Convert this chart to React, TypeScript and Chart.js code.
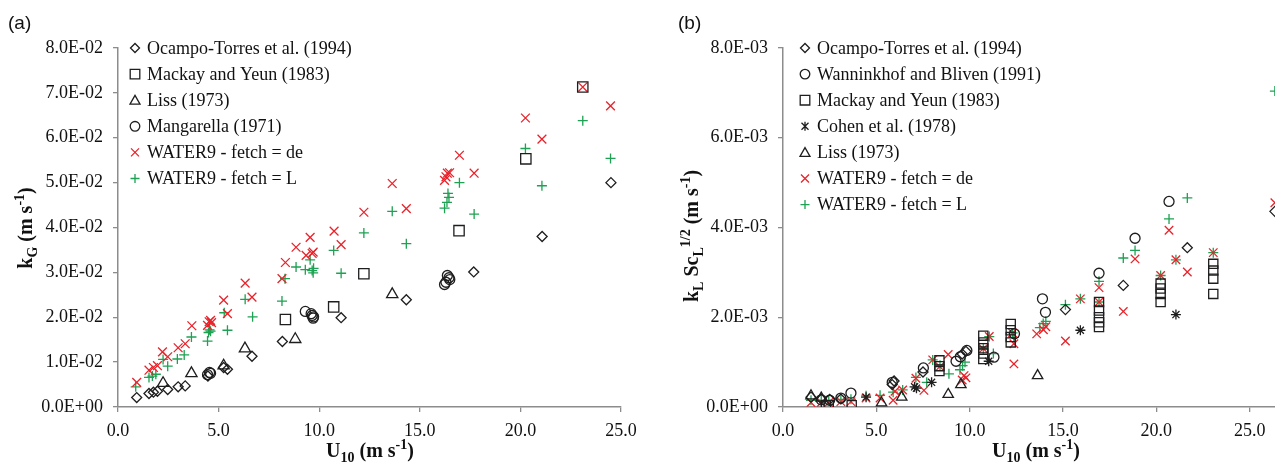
import React, { useEffect, useRef } from 'react';
import { Chart, registerables } from 'chart.js';
Chart.register(...registerables);

type P = [number, number];

// ---------------- Panel (a): k_G vs U10 ----------------
const ocampoA: P[] = [[0.93,0.0021],[1.54,0.0030],[1.76,0.0033],[1.96,0.0035],[2.47,0.0039],[2.99,0.0045],[3.34,0.0047],[4.47,0.0069],[5.25,0.0088],[5.44,0.0084],[6.66,0.0113],[8.17,0.0146],[11.09,0.0199],[14.33,0.0239],[17.68,0.0301],[21.08,0.0380],[24.5,0.0500]];
const mackayA: P[] = [[8.32,0.0195],[10.72,0.0223],[12.22,0.0297],[16.95,0.0393],[20.27,0.0553],[23.1,0.0713]];
const lissA: P[] = [[2.24,0.0053],[3.65,0.0075],[5.25,0.0092],[6.31,0.0130],[8.81,0.0151],[13.63,0.0251]];
const mangarellaA: P[] = [[4.45,0.0072],[4.55,0.0077],[4.6,0.0075],[9.31,0.0213],[9.6,0.0208],[9.65,0.0204],[9.7,0.0198],[9.72,0.0201],[16.23,0.0273],[16.3,0.0278],[16.37,0.0293],[16.45,0.0288],[16.49,0.0284]];
const water9DeA: P[] = [[0.93,0.0055],[1.54,0.0082],[1.76,0.0088],[1.96,0.0092],[2.21,0.0123],[2.47,0.0112],[2.99,0.0132],[3.34,0.0141],[3.67,0.0181],[4.45,0.0182],[4.53,0.0190],[4.6,0.0193],[4.65,0.0188],[5.25,0.0238],[5.44,0.0208],[6.32,0.0276],[6.66,0.0245],[8.15,0.0286],[8.32,0.0322],[8.85,0.0356],[9.35,0.0338],[9.55,0.0378],[9.65,0.0342],[9.7,0.0345],[10.74,0.0392],[11.09,0.0362],[12.22,0.0434],[13.63,0.0498],[14.33,0.0442],[16.23,0.0505],[16.3,0.0513],[16.37,0.0521],[16.48,0.0522],[16.97,0.0561],[17.7,0.0521],[20.25,0.0644],[21.07,0.0597],[23.1,0.0713],[24.48,0.0671]];
const water9LA: P[] = [[0.88,0.0045],[1.54,0.0066],[1.71,0.0069],[1.88,0.0073],[2.24,0.0106],[2.47,0.0091],[2.95,0.0107],[3.29,0.0116],[3.65,0.0156],[4.45,0.0147],[4.5,0.0166],[4.55,0.0172],[4.6,0.0169],[5.28,0.0210],[5.44,0.0171],[6.32,0.0240],[6.69,0.0201],[8.15,0.0236],[8.3,0.0286],[8.85,0.0312],[9.31,0.0306],[9.55,0.0328],[9.65,0.0304],[9.7,0.0299],[9.72,0.0309],[10.72,0.0349],[11.09,0.0298],[12.22,0.0388],[13.63,0.0436],[14.33,0.0364],[16.23,0.0443],[16.35,0.0456],[16.45,0.0467],[16.4,0.0476],[16.97,0.0500],[17.7,0.0430],[20.25,0.0576],[21.07,0.0493],[23.1,0.0638],[24.48,0.0554]];

// ---------------- Panel (b): k_L Sc_L^1/2 vs U10 ----------------
const ocampoB: P[] = [[1.5,0.00022],[2.05,0.00018],[2.5,0.00017],[3.1,0.00018],[5.85,0.00050],[5.95,0.00058],[7.5,0.00078],[9.6,0.00118],[9.8,0.00124],[15.13,0.00217],[18.23,0.00271],[21.66,0.00355],[26.35,0.00436]];
const wanninkhofB: P[] = [[2.05,0.00016],[2.5,0.00015],[3.1,0.00020],[3.64,0.00031],[5.85,0.00055],[7.52,0.00087],[9.27,0.00102],[9.5,0.00112],[9.85,0.00126],[11.3,0.00111],[12.4,0.00163],[13.9,0.00241],[14.06,0.00211],[16.93,0.00298],[18.86,0.00376],[20.68,0.00458]];
const mackayB: P[] = [[2.3,0.00004],[2.45,0.00004],[3.68,0.00004],[8.38,0.00104],[8.38,0.00091],[8.38,0.00080],[10.73,0.00159],[10.73,0.00144],[10.73,0.00131],[10.73,0.00119],[10.73,0.00107],[12.2,0.00185],[12.2,0.00171],[12.2,0.00156],[12.2,0.00144],[16.93,0.00234],[16.93,0.00215],[16.93,0.00200],[16.93,0.00189],[16.93,0.00178],[20.23,0.00275],[20.23,0.00264],[20.23,0.00252],[20.23,0.00234],[23.05,0.00319],[23.05,0.00304],[23.05,0.00286],[23.05,0.00252]];
const cohenB: P[] = [[4.45,0.00022],[7.05,0.00045],[7.15,0.00042],[7.96,0.00055],[11.02,0.00102],[15.93,0.00171],[21.05,0.00206]];
const lissB: P[] = [[1.5,0.00025],[2.05,0.00020],[5.28,0.00009],[6.36,0.00022],[8.85,0.00028],[9.53,0.00050],[13.64,0.00070]];
const water9DeB: P[] = [[1.5,0.00010],[2.05,0.00010],[2.45,0.00010],[3.1,0.00012],[3.64,0.00012],[4.45,0.00020],[5.2,0.00020],[5.9,0.00015],[6.0,0.00035],[6.41,0.00038],[7.12,0.00064],[7.55,0.00037],[8.02,0.00105],[8.4,0.00090],[8.85,0.00117],[9.6,0.00060],[9.7,0.00070],[9.8,0.00065],[10.73,0.00130],[11.05,0.00157],[12.3,0.00165],[12.37,0.00141],[12.37,0.00096],[13.59,0.00163],[13.95,0.00172],[14.08,0.00179],[15.13,0.00147],[15.93,0.00241],[16.93,0.00234],[16.93,0.00266],[18.23,0.00213],[18.86,0.00330],[20.23,0.00293],[20.68,0.00394],[21.05,0.00328],[21.66,0.00301],[23.05,0.00344],[26.35,0.00455]];
const water9LB: P[] = [[1.5,0.00015],[2.05,0.00015],[2.45,0.00015],[3.1,0.00017],[3.64,0.00017],[4.45,0.00025],[5.2,0.00026],[5.9,0.00033],[6.41,0.00038],[7.12,0.00066],[7.7,0.00055],[8.02,0.00105],[8.41,0.00093],[8.89,0.00074],[9.48,0.00083],[9.62,0.00092],[9.75,0.00100],[10.73,0.00130],[11.05,0.00157],[11.27,0.00119],[12.3,0.00165],[12.37,0.00155],[13.76,0.00177],[13.94,0.00186],[14.08,0.00191],[15.13,0.00228],[15.93,0.00241],[16.93,0.00234],[16.93,0.00280],[18.23,0.00332],[18.86,0.00349],[20.23,0.00293],[20.68,0.00419],[21.05,0.00328],[21.66,0.00466],[23.05,0.00344],[26.35,0.00704]];

const xTicksA = [0, 5, 10, 15, 20, 25];
const xTicksB = [0, 5, 10, 15, 20, 25, 30];

const BLACK = '#1e1e1e';
const RED = '#e8232b';
const GREEN = '#1ea152';
const AXIS = '#8c8c8c';
const SERIF = '"Liberation Serif", "Times New Roman", serif';
const SANS = '"Liberation Sans", Arial, sans-serif';

type Style = 'rectRot' | 'rect' | 'triangle' | 'circle' | 'crossRot' | 'cross' | 'star';
type Series = { label: string; data: P[]; style: Style; r: number; color: string };
type Part = { t: string; k?: 'sub' | 'sup' };

function drawRich(ctx: CanvasRenderingContext2D, parts: Part[], cx: number, cy: number, rot: boolean, size: number) {
  ctx.save();
  ctx.translate(cx, cy);
  if (rot) ctx.rotate(-Math.PI / 2);
  const big = `bold ${size}px ${SERIF}`;
  const small = `bold ${Math.round(size * 0.68)}px ${SERIF}`;
  const widths = parts.map((p) => { ctx.font = p.k ? small : big; return ctx.measureText(p.t).width; });
  const total = widths.reduce((a, b) => a + b, 0);
  let x = -total / 2;
  ctx.fillStyle = '#111';
  ctx.textBaseline = 'middle';
  ctx.textAlign = 'left';
  parts.forEach((p, i) => {
    ctx.font = p.k ? small : big;
    const dy = p.k === 'sub' ? size * 0.3 : p.k === 'sup' ? -size * 0.32 : 0;
    ctx.fillText(p.t, x, dy);
    x += widths[i];
  });
  ctx.restore();
}

function drawSymbol(ctx: CanvasRenderingContext2D, style: Style, x: number, y: number, color: string) {
  ctx.save();
  ctx.strokeStyle = color;
  ctx.lineWidth = 1.3;
  ctx.beginPath();
  const r = 4.5;
  switch (style) {
    case 'rectRot':
      ctx.moveTo(x - r, y); ctx.lineTo(x, y - r); ctx.lineTo(x + r, y); ctx.lineTo(x, y + r); ctx.closePath(); break;
    case 'rect':
      ctx.rect(x - 4.8, y - 4.8, 9.6, 9.6); break;
    case 'triangle':
      ctx.moveTo(x, y - 4.8); ctx.lineTo(x + 5, y + 4); ctx.lineTo(x - 5, y + 4); ctx.closePath(); break;
    case 'circle':
      ctx.arc(x, y, 4.8, 0, Math.PI * 2); break;
    case 'crossRot':
      ctx.moveTo(x - 4, y - 4); ctx.lineTo(x + 4, y + 4); ctx.moveTo(x + 4, y - 4); ctx.lineTo(x - 4, y + 4); break;
    case 'cross':
      ctx.moveTo(x - 4.5, y); ctx.lineTo(x + 4.5, y); ctx.moveTo(x, y - 4.5); ctx.lineTo(x, y + 4.5); break;
    case 'star':
      ctx.moveTo(x - 3.5, y - 3.5); ctx.lineTo(x + 3.5, y + 3.5); ctx.moveTo(x + 3.5, y - 3.5); ctx.lineTo(x - 3.5, y + 3.5);
      ctx.moveTo(x, y - 4.5); ctx.lineTo(x, y + 4.5); break;
  }
  ctx.stroke();
  ctx.restore();
}

function fmtExp(v: number, e: number) {
  if (Math.abs(v) < 1e-12) return '0.0E+00';
  return (v / Math.pow(10, -e)).toFixed(1) + 'E-' + String(e).padStart(2, '0');
}

type PanelCfg = {
  series: Series[];
  xMax: number;
  xTicks: number[];
  yMax: number;
  yStep: number;
  yExp: number;
  yAxisWidth: number;
  rightPad: number;
  panelLabel: string;
  panelLabelX: number;
  legendSymX: number;
  legendTextX: number;
  yTitle: Part[];
  yTitleX: number;
  yTitleY: number;
  xTitleX: number;
};

function ScatterPanel({ cfg, left, width }: { cfg: PanelCfg; left: number; width: number }) {
  const ref = useRef<HTMLCanvasElement | null>(null);
  useEffect(() => {
    if (!ref.current) return;
    const overlay = {
      id: 'overlay',
      afterDraw(chart: any) {
        const ctx: CanvasRenderingContext2D = chart.ctx;
        ctx.save();
        ctx.font = `19px ${SANS}`;
        ctx.fillStyle = '#111';
        ctx.textBaseline = 'middle';
        ctx.textAlign = 'left';
        ctx.fillText(cfg.panelLabel, cfg.panelLabelX, 24);
        ctx.restore();
        cfg.series.forEach((s, i) => {
          const y = 48 + i * 26.1;
          drawSymbol(ctx, s.style, cfg.legendSymX, y, s.color);
          ctx.save();
          ctx.font = `18px ${SERIF}`;
          ctx.fillStyle = '#111';
          ctx.textBaseline = 'middle';
          ctx.textAlign = 'left';
          ctx.fillText(s.label, cfg.legendTextX, y + 1);
          ctx.restore();
        });
        drawRich(ctx, cfg.yTitle, cfg.yTitleX, cfg.yTitleY, true, 20);
        drawRich(ctx, [{ t: 'U' }, { t: '10', k: 'sub' }, { t: ' (m s' }, { t: '-1', k: 'sup' }, { t: ')' }], cfg.xTitleX, 452, false, 20);
      },
    };
    const chart = new Chart(ref.current, {
      type: 'scatter',
      data: {
        datasets: cfg.series.map((s) => ({
          label: s.label,
          data: s.data.map(([x, y]) => ({ x, y })),
          pointStyle: s.style,
          pointRadius: s.r,
          pointHoverRadius: s.r,
          pointBorderColor: s.color,
          pointBackgroundColor: 'rgba(0,0,0,0)',
          pointBorderWidth: 1.3,
          showLine: false,
        })),
      },
      options: {
        animation: false,
        responsive: true,
        maintainAspectRatio: false,
        events: [],
        layout: { padding: { top: 48, right: cfg.rightPad, left: 0, bottom: 0 } },
        plugins: { legend: { display: false }, tooltip: { enabled: false }, title: { display: false } },
        scales: {
          x: {
            type: 'linear',
            min: 0,
            max: cfg.xMax,
            afterBuildTicks: (scale: any) => { scale.ticks = cfg.xTicks.map((v) => ({ value: v })); },
            ticks: { callback: (v: any) => Number(v).toFixed(1), font: { family: SERIF, size: 18 }, color: '#111', padding: 8, maxRotation: 0, autoSkip: false },
            grid: { drawOnChartArea: false, drawTicks: true, tickLength: 5, color: AXIS, lineWidth: 1.3 },
            border: { color: AXIS, width: 1.5 },
            afterFit: (scale: any) => { scale.height = 57; scale.paddingLeft = 0; scale.paddingRight = 0; },
          },
          y: {
            type: 'linear',
            min: 0,
            max: cfg.yMax,
            ticks: { stepSize: cfg.yStep, callback: (v: any) => fmtExp(Number(v), cfg.yExp), font: { family: SERIF, size: 18 }, color: '#111', padding: 10 },
            grid: { drawOnChartArea: false, drawTicks: true, tickLength: 5, color: AXIS, lineWidth: 1.3 },
            border: { color: AXIS, width: 1.5 },
            afterFit: (scale: any) => { scale.width = cfg.yAxisWidth; scale.paddingTop = 0; scale.paddingBottom = 0; },
          },
        },
      } as any,
      plugins: [overlay],
    });
    return () => chart.destroy();
  }, [cfg]);
  return (
    <div style={{ position: 'absolute', left, top: 0, width, height: 464 }}>
      <canvas ref={ref} />
    </div>
  );
}

const cfgA: PanelCfg = {
  series: [
    { label: 'Ocampo-Torres et al. (1994)', data: ocampoA, style: 'rectRot', r: 5, color: BLACK },
    { label: 'Mackay and Yeun (1983)', data: mackayA, style: 'rect', r: 7.3, color: BLACK },
    { label: 'Liss (1973)', data: lissA, style: 'triangle', r: 6.5, color: BLACK },
    { label: 'Mangarella (1971)', data: mangarellaA, style: 'circle', r: 5, color: BLACK },
    { label: 'WATER9 - fetch = de', data: water9DeA, style: 'crossRot', r: 6.2, color: RED },
    { label: 'WATER9 - fetch = L', data: water9LA, style: 'cross', r: 5, color: GREEN },
  ],
  xMax: 25,
  xTicks: xTicksA,
  yMax: 0.08,
  yStep: 0.01,
  yExp: 2,
  yAxisWidth: 118,
  rightPad: 19,
  panelLabel: '(a)',
  panelLabelX: 8,
  legendSymX: 135,
  legendTextX: 147,
  yTitle: [{ t: 'k' }, { t: 'G', k: 'sub' }, { t: ' (m s' }, { t: '-1', k: 'sup' }, { t: ')' }],
  yTitleX: 27,
  yTitleY: 228,
  xTitleX: 370,
};

const cfgB: PanelCfg = {
  series: [
    { label: 'Ocampo-Torres et al. (1994)', data: ocampoB, style: 'rectRot', r: 5, color: BLACK },
    { label: 'Wanninkhof and Bliven (1991)', data: wanninkhofB, style: 'circle', r: 5, color: BLACK },
    { label: 'Mackay and Yeun (1983)', data: mackayB, style: 'rect', r: 6.5, color: BLACK },
    { label: 'Cohen et al. (1978)', data: cohenB, style: 'star', r: 5, color: BLACK },
    { label: 'Liss (1973)', data: lissB, style: 'triangle', r: 6, color: BLACK },
    { label: 'WATER9 - fetch = de', data: water9DeB, style: 'crossRot', r: 6, color: RED },
    { label: 'WATER9 - fetch = L', data: water9LB, style: 'cross', r: 5, color: GREEN },
  ],
  xMax: 30,
  xTicks: xTicksB,
  yMax: 0.008,
  yStep: 0.002,
  yExp: 3,
  yAxisWidth: 143,
  rightPad: 20,
  panelLabel: '(b)',
  panelLabelX: 38,
  legendSymX: 165,
  legendTextX: 177,
  yTitle: [{ t: 'k' }, { t: 'L', k: 'sub' }, { t: ' Sc' }, { t: 'L', k: 'sub' }, { t: '1/2', k: 'sup' }, { t: ' (m s' }, { t: '-1', k: 'sup' }, { t: ')' }],
  yTitleX: 53,
  yTitleY: 236,
  xTitleX: 396,
};

export default function App() {
  return (
    <div style={{ position: 'absolute', left: 0, top: 0, width: 1275, height: 464, overflow: 'hidden', background: '#fff' }}>
      <ScatterPanel cfg={cfgA} left={0} width={640} />
      <ScatterPanel cfg={cfgB} left={640} width={723} />
    </div>
  );
}
